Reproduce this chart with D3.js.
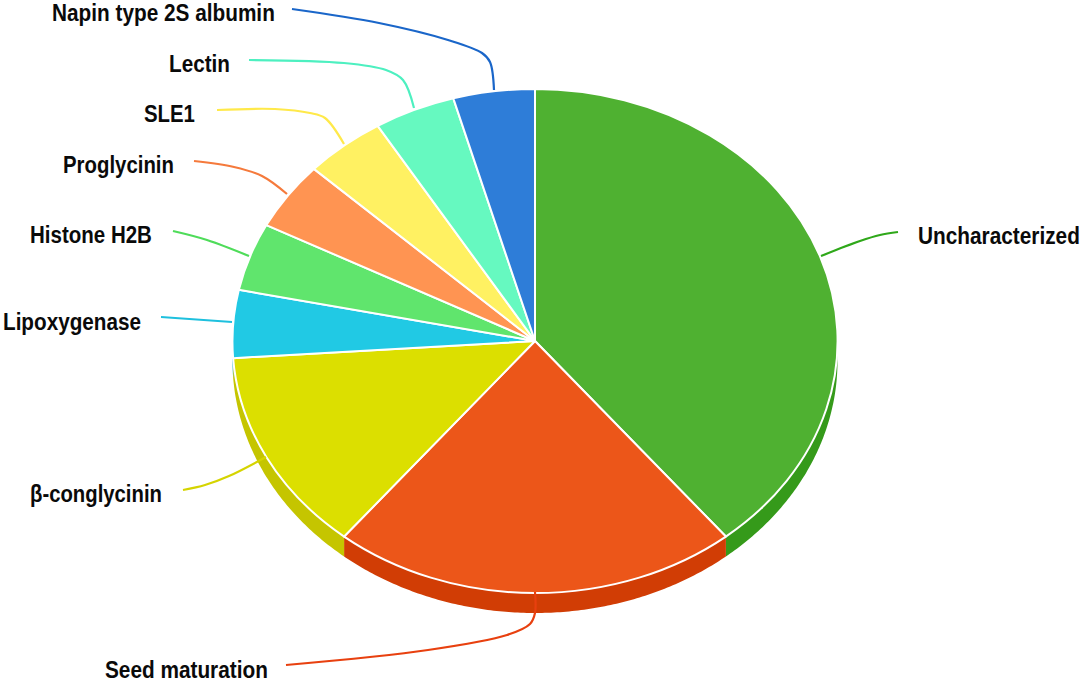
<!DOCTYPE html>
<html><head><meta charset="utf-8">
<script src="https://cdnjs.cloudflare.com/ajax/libs/d3/7.8.5/d3.min.js"></script>
<style>html,body{margin:0;padding:0;background:#fff}svg{display:block}
text{font-family:"Liberation Sans Narrow","Liberation Sans",sans-serif;font-weight:700;fill:#0a0a0a;font-size:24px}</style>
</head><body><svg id="c" width="1084" height="682"></svg>
<script>
const categories = ["Uncharacterized","Seed maturation","β-conglycinin","Lipoxygenase","Histone H2B","Proglycinin","SLE1","Lectin","Napin type 2S albumin"];
const counts = [9,5,3,1,1,1,1,1,1];
const topColors = ["#4fb131","#ec5619","#dcdf00","#21c9e4","#60e56d","#ff9452","#fff162","#66f9c0","#2e7dd8"];
const sideColors = ["#359a1a","#d13d05","#c5c500","#17a5bd","#4cc058","#d97a40","#d8cc50","#50d0a0","#2465b0"];
const lineColors = ["#2fa81a","#e8400f","#d5d400","#1ec0de","#4fdc5a","#f57a3c","#ffe94a","#4df0c0","#1a66c9"];
// label layout: [left, right, baseline]
const labelBoxes = [[918,1080,244],[105,268,678],[30,162,502],[3,141,330],[30,152,243],[63,174,173],[144,195,122],[169,230,72],[52,275,21]];
const leaders = [
 [[898,232],[880,235],[860,241],[821,256]],
 [[286,665],[428,650],[507,635],[530,624],[535,613],[535,592]],
 [[183,490],[205,485],[229,476],[266,457]],
 [[161,317],[232,322]],
 [[173,231],[207,240],[249,256]],
 [[194,161],[234,167],[262,176],[287,194]],
 [[217,110],[275,109],[310,113],[325,118],[344,144]],
 [[249,60],[344,63],[386,70],[403,80],[414,108]],
 [[292,9],[379,23],[448,40],[482,53],[490,62],[494,90]]
];
const cx=535, cy=341, rx=302.5, ry=252, depth=20;
const svg=d3.select("#c");
const arcs=d3.pie().sort(null).value(d=>d)(counts);
const sx=d3.scaleLinear().domain([-1,1]).range([cx-rx,cx+rx]);
const sy=d3.scaleLinear().domain([-1,1]).range([cy-ry,cy+ry]);

// side wall
const sideLine=d3.line();
svg.append("g").selectAll("path").data(arcs).join("path")
 .attr("fill",(d,i)=>sideColors[i])
 .attr("d",d=>{
   const a0=Math.max(d.startAngle,Math.PI/2), a1=Math.min(d.endAngle,Math.PI*1.5);
   if(a1<=a0) return null;
   const t=d3.range(a0,a1,0.01).concat([a1]);
   const top=t.map(a=>[sx(Math.sin(a)),sy(-Math.cos(a))]);
   const bot=t.slice().reverse().map(a=>[sx(Math.sin(a)),sy(-Math.cos(a))+depth]);
   return sideLine(top.concat(bot))+"Z";
 });

// top face
const arc=d3.arc().innerRadius(0).outerRadius(1);
svg.append("g").attr("transform",`translate(${cx},${cy}) scale(${rx},${ry})`)
 .selectAll("path").data(arcs).join("path")
 .attr("d",arc).attr("fill",(d,i)=>topColors[i])
 .attr("stroke","#fff").attr("stroke-width",2).attr("vector-effect","non-scaling-stroke").attr("stroke-linejoin","round");

// leader lines
const lead=d3.line().curve(d3.curveCatmullRom.alpha(0.5));
svg.append("g").selectAll("path").data(leaders).join("path")
 .attr("d",lead).attr("fill","none").attr("stroke-width",2.2)
 .attr("stroke",(d,i)=>lineColors[i]);

// labels: condensed to each label's measured span
svg.append("g").selectAll("text").data(categories).join("text")
 .text(d=>d)
 .attr("transform",function(d,i){
   const b=labelBoxes[i], k=(b[1]-b[0])/this.getComputedTextLength();
   return `translate(${b[0]},${b[2]}) scale(${k},1)`;
 });
</script></body></html>
